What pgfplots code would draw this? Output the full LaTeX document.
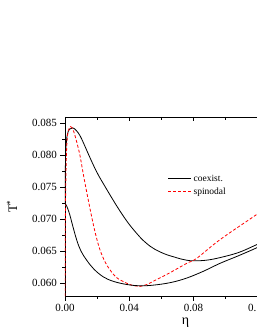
\documentclass[border=0pt]{standalone}
\usepackage{fontspec}
\setmainfont{Liberation Serif}
\usepackage{pgfplots}
\pgfplotsset{compat=1.18}
\begin{document}
\begin{tikzpicture}
\pgfplotsset{
  common/.style={
    scale only axis, width=241pt, height=179pt,
    xmin=0, xmax=0.15, ymin=0.058, ymax=0.086,
    xtick={0,0.04,0.08,0.12}, ytick={0.060,0.065,0.070,0.075,0.080,0.085},
    minor x tick num=1, minor y tick num=1,
    scaled x ticks=false, scaled y ticks=false,
    major tick length=4.5pt, minor tick length=2.8pt,
    axis line style={line width=0.9pt}, every tick/.style={line width=0.7pt,black},
    /pgf/number format/assume math mode=true,
  }
}
\begin{axis}[common, name=ax,
  xtick pos=bottom, ytick pos=left, tick align=outside,
  xticklabel style={/pgf/number format/.cd, fixed, fixed zerofill, precision=2},
  yticklabel style={/pgf/number format/.cd, fixed, fixed zerofill, precision=3},
  tick label style={font=\fontsize{11}{12}\selectfont},
  xlabel={η}, ylabel={T\textsuperscript{*}},
  every axis x label/.style={at={(axis description cs:0.5,-0.15)}, anchor=center, font=\fontsize{14}{15}\selectfont},
  every axis y label/.style={at={(axis description cs:-0.22,0.5)}, rotate=90, anchor=center, font=\fontsize{13}{14}\selectfont},
  legend style={at={(axis cs:0.062,0.0776)}, anchor=north west, draw=none, fill=none,
    font=\fontsize{9.5}{11}\selectfont, row sep=1pt},
  legend cell align=left,
  legend image code/.code={\draw[#1] (0cm,0cm) -- (23pt,0cm);},
]
\addplot[black, line width=0.8pt, smooth, tension=0.6] coordinates {
(0.0000,0.0725) (0.0001,0.0760) (0.0003,0.0790) (0.0006,0.0812) (0.0014,0.0832)
(0.0028,0.0841) (0.0048,0.0843) (0.0070,0.0839) (0.0093,0.0831) (0.0114,0.0820)
(0.0135,0.0808) (0.0158,0.0795) (0.0180,0.0783) (0.0208,0.0769) (0.0238,0.0756)
(0.0290,0.0734) (0.0342,0.0713) (0.0400,0.0692) (0.0467,0.0672) (0.0500,0.0664)
(0.0529,0.0658) (0.0560,0.0653) (0.0600,0.0648) (0.0640,0.0644) (0.0680,0.0641)
(0.0720,0.0638) (0.0757,0.0636) (0.0800,0.0635) (0.0880,0.0636)
(0.0964,0.0640) (0.1080,0.0648) (0.1190,0.0660) (0.1300,0.0673)};
\addlegendentry{coexist.}
\addplot[red, line width=0.8pt, dash pattern=on 3pt off 2pt, smooth, tension=0.6] coordinates {
(0.00005,0.0580) (0.0001,0.0650) (0.0003,0.0720) (0.0007,0.0780) (0.0012,0.0820)
(0.0020,0.0838) (0.0035,0.0845) (0.0050,0.0840) (0.0062,0.0831) (0.0078,0.0816)
(0.0093,0.0800) (0.0108,0.0779) (0.0124,0.0757) (0.0145,0.0730) (0.0166,0.0704)
(0.0190,0.0677) (0.0218,0.0652) (0.0250,0.0633) (0.0280,0.0621) (0.0320,0.0609)
(0.0384,0.0600) (0.0430,0.0596) (0.0467,0.0595) (0.0510,0.0598) (0.0549,0.0603)
(0.0650,0.0616) (0.0757,0.0631) (0.0820,0.0639) (0.0964,0.0668) (0.1190,0.0707)
(0.1300,0.0727)};
\addlegendentry{spinodal}
\addplot[black, line width=0.8pt, smooth, tension=0.6, forget plot] coordinates {
(0.0000,0.0725) (0.0008,0.0722) (0.0018,0.0716) (0.0031,0.0706) (0.0052,0.0686)
(0.0075,0.0666) (0.0100,0.0650) (0.0135,0.0636) (0.0180,0.0622) (0.0238,0.0610)
(0.0300,0.0603) (0.0384,0.0598) (0.0467,0.0596) (0.0550,0.0597) (0.0657,0.0601)
(0.0757,0.0608) (0.0864,0.0619) (0.0964,0.0631) (0.1080,0.0643) (0.1190,0.0655)
(0.1300,0.0668)};
\end{axis}
\begin{axis}[common, at={(ax.south west)}, anchor=south west,
  xtick pos=top, ytick pos=right, tick align=inside,
  xticklabels={}, yticklabels={}, axis line style={draw=none}]
\end{axis}
\pgfresetboundingbox
\path[use as bounding box] (ax.south west) ++(-65pt,-36pt) rectangle ++(257pt,332pt);
\end{tikzpicture}
\end{document}
